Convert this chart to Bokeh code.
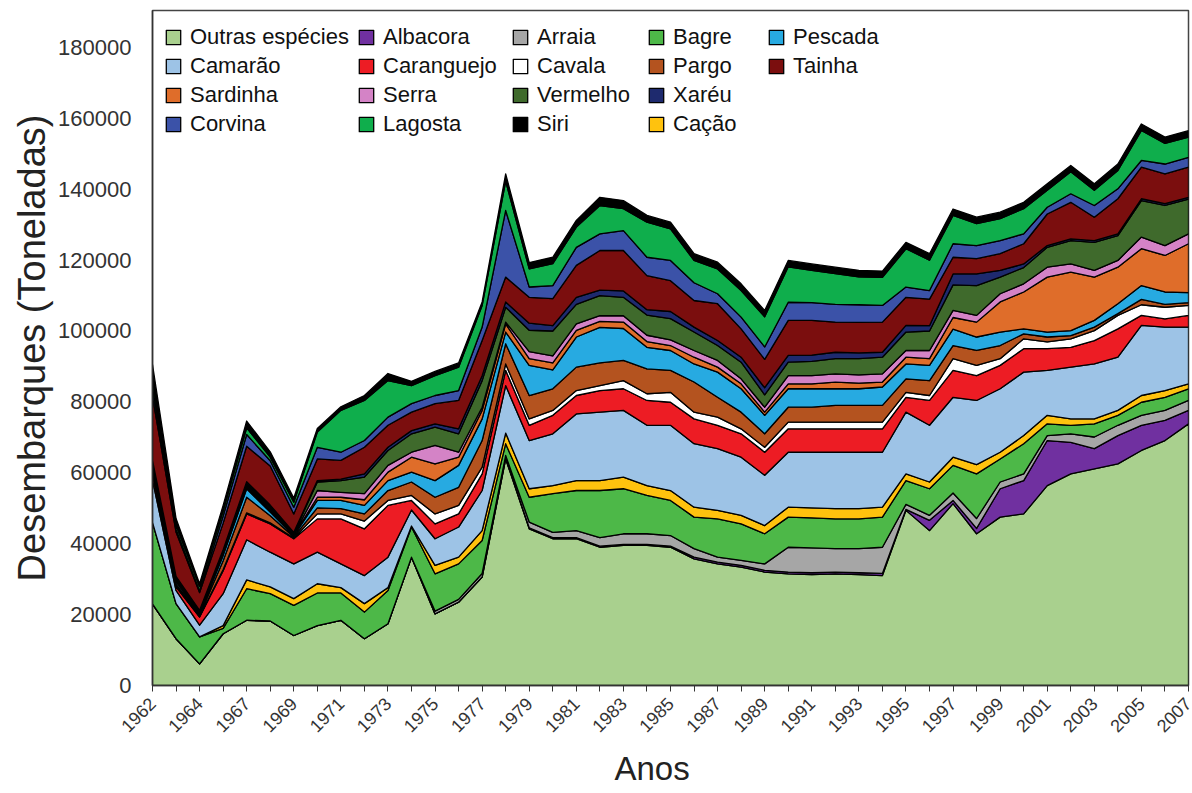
import math
import numpy as np
from bokeh.plotting import figure
from bokeh.models import Range1d, FixedTicker, Legend, LegendItem, Title
from bokeh.embed import file_html
from bokeh.resources import INLINE

# Years (categorical positions; 1965 absent from the series)
years = [1962, 1963, 1964, 1966, 1967, 1968, 1969, 1970, 1971, 1972, 1973, 1974,
         1975, 1976, 1977, 1978, 1979, 1980, 1981, 1982, 1983, 1984, 1985, 1986,
         1987, 1988, 1989, 1990, 1991, 1992, 1993, 1994, 1995, 1996, 1997, 1998,
         1999, 2000, 2001, 2002, 2003, 2004, 2005, 2006, 2007]

# Landings per group, thousand tonnes
outras = [23.0, 13.2, 6.1, 14.6, 18.4, 18.2, 14.1, 16.9, 18.4, 13.2, 17.4, 36.2, 20.2, 23.5, 30.6,
          63.9, 44.2, 41.4, 41.4, 39.0, 39.5, 39.5, 39.0, 35.7, 34.3, 33.4, 32.0, 31.5, 31.3, 31.5,
          31.3, 31.0, 49.4, 43.7, 51.3, 42.8, 47.5, 48.4, 56.4, 59.7, 61.1, 62.5, 66.3, 69.1, 73.8]
albacora = [0, 0, 0, 0, 0, 0, 0, 0, 0, 0, 0, 0, 0, 0, 0,
            0.2, 0.3, 0.3, 0.3, 0.3, 0.3, 0.3, 0.3, 0.5, 0.5, 0.5, 0.5, 0.5, 0.5, 0.5,
            0.5, 0.6, 0.3, 2.9, 0.9, 1.5, 8.0, 9.4, 12.7, 8.9, 5.7, 8.0, 7.1, 5.7, 3.8]
arraia = [0, 0, 0, 0, 0, 0, 0, 0, 0, 0, 0, 0, 0.8, 0.8, 1.0,
          0.8, 1.6, 1.5, 2.0, 2.4, 3.0, 3.0, 3.0, 2.4, 1.4, 1.4, 1.8, 7.0, 7.0, 6.6,
          6.8, 7.4, 1.4, 1.4, 2.1, 2.8, 1.9, 1.9, 1.4, 2.4, 3.3, 2.9, 2.8, 2.8, 2.8]
bagre = [23.0, 9.9, 7.6, 1.5, 8.9, 7.7, 8.5, 9.2, 7.7, 7.5, 9.4, 8.5, 10.5, 10.0, 9.3,
         3.3, 7.0, 10.9, 11.3, 13.3, 12.7, 10.8, 9.9, 8.9, 10.8, 10.3, 8.5, 8.5, 8.5, 8.4,
         8.4, 8.5, 6.7, 7.5, 7.8, 12.6, 6.5, 8.5, 3.3, 2.4, 3.7, 2.8, 3.7, 3.7, 3.3]
cacao = [0, 0, 0, 0.8, 2.5, 1.9, 1.9, 2.6, 1.5, 2.4, 0.8, 0.3, 2.4, 1.9, 2.8,
         3.0, 2.4, 2.3, 2.8, 2.8, 3.3, 2.8, 2.8, 2.8, 2.4, 2.4, 2.3, 2.8, 2.8, 2.9,
         2.9, 2.8, 1.9, 1.9, 2.3, 2.6, 1.9, 2.3, 2.4, 1.8, 1.4, 1.4, 1.9, 1.9, 1.4]
camarao = [12.0, 3.7, 3.3, 9.0, 11.3, 9.8, 9.8, 8.9, 6.7, 7.9, 8.6, 4.5, 7.5, 8.5, 11.3,
           13.4, 13.6, 14.6, 18.8, 19.3, 18.8, 17.0, 18.4, 17.9, 17.4, 16.4, 14.2, 15.5, 15.7, 15.9,
           15.9, 15.5, 17.4, 16.0, 16.9, 18.1, 17.9, 17.9, 12.7, 14.6, 15.5, 15.0, 19.8, 17.9, 16.0]
caranguejo = [2.0, 1.0, 2.3, 6.5, 7.3, 8.0, 7.1, 9.4, 12.7, 13.2, 14.6, 2.7, 4.2, 3.7, 4.7,
              4.3, 4.3, 5.2, 5.2, 6.1, 6.1, 7.0, 6.5, 7.0, 6.6, 6.6, 6.5, 6.6, 6.6, 6.6,
              6.6, 6.6, 4.2, 7.0, 7.6, 7.0, 6.6, 6.6, 6.1, 5.6, 6.6, 8.0, 2.8, 2.3, 3.3]
cavala = [0.3, 0.3, 0.2, 0.3, 0.3, 0.3, 0.2, 1.4, 1.4, 2.2, 1.4, 1.4, 2.8, 2.4, 1.9,
          1.8, 1.8, 1.4, 1.4, 1.4, 2.3, 1.9, 2.8, 1.9, 2.3, 1.4, 1.4, 1.9, 1.9, 1.9,
          1.9, 1.9, 1.4, 1.4, 3.3, 2.9, 1.9, 2.8, 1.9, 2.4, 2.8, 3.8, 3.0, 3.3, 2.8]
pargo = [0.7, 0.5, 0.3, 2.5, 4.4, 2.0, 0.3, 1.7, 1.5, 2.0, 2.8, 3.8, 4.7, 5.1, 7.5,
         5.7, 6.6, 6.1, 6.6, 6.4, 5.7, 7.0, 6.2, 8.5, 5.6, 4.7, 3.8, 4.2, 4.2, 4.7,
         4.7, 4.7, 3.8, 4.2, 3.7, 4.2, 3.7, 1.4, 1.4, 0.9, 1.0, 0.5, 1.5, 0.8, 0.8]
pescada = [0.5, 0.7, 0.5, 1.5, 2.4, 1.0, 0.3, 2.1, 2.3, 2.4, 2.8, 2.8, 4.7, 6.2, 6.1,
           3.3, 8.5, 5.3, 8.5, 10.0, 9.0, 6.1, 5.6, 5.1, 7.1, 6.6, 5.2, 5.2, 5.2, 4.7,
           4.7, 5.2, 4.2, 4.3, 4.6, 3.8, 3.8, 1.4, 1.4, 1.4, 1.9, 2.8, 3.9, 3.5, 2.8]
sardinha = [0.3, 0.3, 0.2, 0.4, 0.5, 0.5, 0.2, 0.9, 0.9, 1.6, 2.4, 4.2, 4.7, 2.3, 2.4,
            2.3, 1.9, 2.0, 1.9, 1.7, 1.8, 1.6, 1.4, 1.9, 1.4, 1.4, 0.9, 1.4, 1.4, 1.9,
            1.6, 1.4, 1.9, 1.9, 3.3, 4.2, 8.5, 10.4, 15.5, 16.5, 12.2, 10.3, 10.4, 10.3, 13.8]
serra = [0.2, 0.2, 0.1, 0.4, 0.5, 0.5, 0.2, 1.9, 1.4, 1.7, 1.9, 1.4, 5.2, 1.4, 0.9,
         0.5, 2.0, 2.0, 1.8, 1.6, 1.8, 1.8, 1.6, 1.9, 1.9, 1.4, 1.4, 2.3, 2.3, 2.3,
         2.3, 2.3, 1.9, 2.3, 2.0, 1.9, 2.3, 2.3, 2.8, 2.3, 1.9, 1.9, 3.3, 2.8, 2.8]
vermelho = [1.0, 0.5, 0.3, 0.4, 0.5, 0.5, 0.3, 2.4, 3.3, 4.7, 4.2, 5.2, 5.2, 5.2, 7.5,
            4.2, 6.0, 7.0, 5.5, 5.7, 5.2, 5.7, 6.0, 5.2, 4.2, 4.7, 3.5, 3.8, 4.0, 4.3,
            4.6, 4.7, 5.2, 5.5, 7.2, 8.4, 4.7, 4.6, 5.6, 6.6, 7.9, 7.0, 10.3, 11.3, 9.8]
xareu = [0.5, 0.5, 0.3, 0.4, 0.5, 0.5, 0.3, 0.4, 0.4, 0.9, 0.9, 0.9, 0.9, 1.4, 1.4,
         1.5, 2.0, 1.5, 2.0, 1.5, 1.8, 1.5, 2.0, 1.4, 1.4, 1.4, 2.0, 1.9, 1.8, 1.8,
         1.6, 1.4, 1.9, 1.5, 3.1, 3.3, 1.9, 1.0, 0.5, 0.5, 0.5, 0.5, 0.5, 0.5, 0.5]
tainha = [18.0, 12.5, 5.0, 7.5, 10.0, 11.0, 5.2, 6.1, 5.3, 7.5, 6.2, 5.2, 5.7, 8.0, 9.9,
          7.0, 7.3, 7.6, 9.0, 11.2, 11.4, 9.6, 8.7, 7.5, 10.4, 8.0, 8.0, 9.9, 9.8, 8.5,
          8.6, 8.5, 7.9, 7.5, 4.7, 4.3, 4.7, 5.7, 8.9, 10.3, 6.6, 9.9, 8.9, 8.4, 8.5]
corvina = [2.5, 0.8, 0.5, 2.0, 3.3, 1.5, 1.9, 3.3, 2.3, 1.9, 2.3, 2.4, 2.3, 2.8, 3.8,
           18.8, 2.9, 3.7, 5.1, 4.7, 5.6, 5.2, 5.7, 5.0, 2.8, 3.3, 3.5, 5.1, 5.0, 5.0,
           5.0, 4.7, 2.9, 2.4, 3.8, 3.7, 3.7, 2.8, 1.9, 2.4, 3.3, 2.8, 1.9, 2.8, 2.8]
lagosta = [2.5, 1.2, 1.2, 1.5, 1.9, 1.0, 1.4, 4.3, 11.8, 11.3, 10.3, 5.1, 5.6, 6.6, 6.1,
           8.3, 5.1, 6.2, 5.7, 8.0, 6.2, 9.9, 8.9, 6.3, 7.0, 7.5, 8.5, 10.0, 9.1, 8.7,
           7.9, 7.9, 10.8, 8.6, 8.0, 6.2, 6.2, 7.1, 4.8, 6.2, 4.3, 5.2, 8.5, 5.8, 5.7]
siri = [4.0, 1.8, 0.8, 1.5, 1.9, 1.5, 1.2, 1.0, 1.0, 1.4, 2.0, 1.2, 1.2, 1.2, 1.0,
        2.0, 1.8, 1.8, 1.9, 2.3, 2.3, 1.9, 1.9, 1.9, 1.9, 1.9, 1.8, 1.8, 1.8, 1.8,
        1.8, 1.8, 1.8, 1.8, 1.8, 1.8, 1.8, 1.8, 1.8, 1.8, 1.8, 1.8, 1.8, 1.8, 1.8]

# stacking order (bottom -> top): label, values, colour
layers = [
    ("Outras espécies", outras, "#a9d08e"),
    ("Albacora", albacora, "#7030a0"),
    ("Arraia", arraia, "#a6a6a6"),
    ("Bagre", bagre, "#4db848"),
    ("Cação", cacao, "#ffc20e"),
    ("Camarão", camarao, "#9dc3e6"),
    ("Caranguejo", caranguejo, "#ed1c24"),
    ("Cavala", cavala, "#ffffff"),
    ("Pargo", pargo, "#b4531f"),
    ("Pescada", pescada, "#27aae1"),
    ("Sardinha", sardinha, "#df6d2a"),
    ("Serra", serra, "#d483c6"),
    ("Vermelho", vermelho, "#3f6a2c"),
    ("Xaréu", xareu, "#1e2a6e"),
    ("Tainha", tainha, "#7b0e0e"),
    ("Corvina", corvina, "#3b52a8"),
    ("Lagosta", lagosta, "#0fae4c"),
    ("Siri", siri, "#000000"),
]
legend_columns = [["Outras espécies", "Camarão", "Sardinha", "Corvina"],
                  ["Albacora", "Caranguejo", "Serra", "Lagosta"],
                  ["Arraia", "Cavala", "Vermelho", "Siri"],
                  ["Bagre", "Pargo", "Xaréu", "Cação"],
                  ["Pescada", "Tainha"]]
y_ticks = [0, 20000, 40000, 60000, 80000, 100000, 120000, 140000, 160000, 180000]

n = len(years)
xs = list(range(n))

p = figure(width=1192, height=793, output_backend="svg", toolbar_location=None,
           x_range=Range1d(0, n - 1), y_range=Range1d(0, 190400),
           min_border_left=152, min_border_right=4, min_border_top=10, min_border_bottom=108)
p.xgrid.visible = False
p.ygrid.visible = False
p.background_fill_color = "white"
p.outline_line_color = "#444444"
p.outline_line_width = 1.5

renderers = {}
bottom = np.zeros(n)
for name, vals, color in layers:
    top = bottom + np.array(vals, dtype=float) * 1000.0
    r = p.patch(x=xs + xs[::-1], y=list(top) + list(bottom[::-1]),
                fill_color=color, line_color="black", line_width=1.3, line_join="round")
    renderers[name] = r
    bottom = top

font = "Liberation Sans"

# y axis
yax = p.yaxis[0]
yax.ticker = FixedTicker(ticks=y_ticks)
yax.major_label_overrides = {t: str(t) for t in y_ticks}
yax.major_label_text_font = font
yax.major_label_text_font_size = "22px"
yax.major_label_text_color = "#333333"
yax.major_tick_line_color = None
yax.minor_tick_line_color = None
yax.axis_line_color = "#333333"
yax.axis_line_width = 1.5
yax.major_label_standoff = 15
yax.axis_label = "Desembarques (Toneladas)"
yax.axis_label_text_font = font
yax.axis_label_text_font_size = "38px"
yax.axis_label_text_font_style = "normal"
yax.axis_label_text_color = "#222222"
yax.axis_label_standoff = 2

# x axis
xax = p.xaxis[0]
major = [i for i in xs if i % 2 == 0]
minor = [i for i in xs if i % 2 == 1]
xax.ticker = FixedTicker(ticks=major, minor_ticks=minor)
xax.major_label_overrides = {i: str(years[i]) for i in major}
xax.major_label_orientation = math.pi / 4
xax.major_label_text_font = font
xax.major_label_text_font_size = "18px"
xax.major_label_text_color = "#333333"
xax.major_label_standoff = 9
xax.major_tick_in = 0
xax.major_tick_out = 6
xax.minor_tick_in = 0
xax.minor_tick_out = 6
xax.major_tick_line_color = "#333333"
xax.minor_tick_line_color = "#333333"
xax.axis_line_color = "#333333"
xax.axis_line_width = 1.5

p.add_layout(Title(text="Anos", text_font=font, text_font_size="33px",
                   text_font_style="normal", text_color="#222222",
                   align="left", offset=462, standoff=12), "below")

# legend: one block per column so the columns sit where the original has them
col_x = [12, 205, 359, 495, 615]
frame_h = 675
for cx, names in zip(col_x, legend_columns):
    rows = len(names)
    leg_h = 2 * 10 + rows * 26 + (rows - 1) * 3
    legend = Legend(items=[LegendItem(label=nm, renderers=[renderers[nm]]) for nm in names],
                    location=(cx, frame_h + 6 - leg_h), orientation="vertical")
    legend.label_text_font = font
    legend.label_text_font_size = "22px"
    legend.label_text_color = "#111111"
    legend.glyph_width = 18
    legend.glyph_height = 18
    legend.label_height = 22
    legend.label_standoff = 8
    legend.spacing = 3
    legend.padding = 10
    legend.margin = 0
    legend.background_fill_alpha = 0
    legend.border_line_color = None
    p.add_layout(legend)

open("out.html", "w").write(file_html(p, INLINE))
